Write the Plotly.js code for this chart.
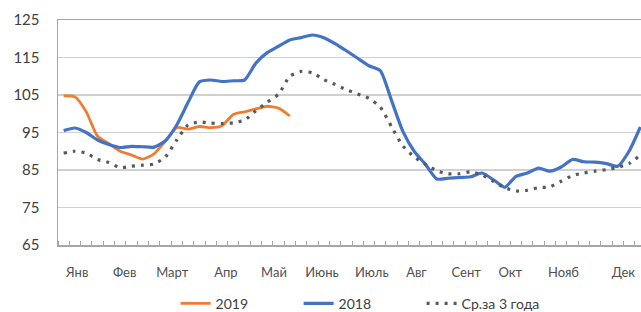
<!DOCTYPE html>
<html>
<head>
<meta charset="utf-8">
<script src="https://cdn.plot.ly/plotly-3.0.1.min.js"></script>
<style>
html,body{margin:0;padding:0;overflow:hidden;background:#fff;width:641px;height:312px;}
#chart{width:646px;height:312px;}
</style>
</head>
<body>
<div id="chart"></div>
<script>
// weeks 1..52
const weeks = Array.from({length: 52}, (_, i) => i + 1);

const series2019 = [104.8, 104.5, 100.5, 94.0, 92.0, 90.0, 89.0, 87.9, 89.3, 92.7,
  96.3, 95.9, 96.6, 96.3, 96.8, 99.8, 100.5, 101.3, 102.0, 101.5, 99.4];

const series2018 = [95.5, 96.2, 95.0, 93.0, 91.8, 91.0, 91.3, 91.2, 91.1, 92.8,
  97.0, 103.0, 108.5, 109.0, 108.6, 108.8, 109.0, 113.5, 116.3, 118.0,
  119.7, 120.3, 121.0, 120.3, 118.7, 116.8, 114.8, 112.8, 111.5, 103.5,
  95.3, 90.0, 86.5, 82.6, 82.8, 83.0, 83.2, 84.2, 82.4, 80.4,
  83.3, 84.2, 85.5, 84.7, 85.8, 87.8, 87.2, 87.1, 86.7, 86.0,
  90.0, 96.5];

const seriesAvg = [89.5, 90.0, 89.5, 87.8, 87.0, 85.6, 86.0, 86.3, 86.6, 88.5,
  93.0, 97.0, 97.8, 97.5, 97.4, 97.6, 98.3, 100.8, 103.1, 105.2,
  110.0, 111.3, 110.9, 109.1, 107.8, 106.4, 105.3, 104.1, 101.8, 96.5,
  91.4, 88.5, 86.5, 84.8, 84.0, 84.0, 84.5, 83.7, 82.0, 80.3,
  79.4, 79.6, 80.3, 80.5, 82.0, 83.5, 84.2, 84.7, 85.1, 85.7,
  86.7, 89.0];

const monthLabels = ["Янв", "Фев", "Март", "Апр", "Май", "Июнь", "Июль", "Авг", "Сент", "Окт", "Нояб", "Дек"];
const monthPos = [2.2, 6.4, 10.6, 15.35, 19.6, 23.85, 28.25, 32.2, 36.6, 40.5, 45.2, 50.5];

const yTicks = [65, 75, 85, 95, 105, 115, 125];

const FONT = "Lato, 'Liberation Sans', sans-serif";

const traces = [
  {
    x: weeks.slice(0, series2019.length), y: series2019, name: "2019",
    type: "scatter", mode: "lines",
    line: {color: "#ED7D31", width: 2.8, shape: "spline", smoothing: 0.6}
  },
  {
    x: weeks, y: series2018, name: "2018",
    type: "scatter", mode: "lines",
    line: {color: "#4472C4", width: 3.2, shape: "spline", smoothing: 0.6}
  },
  {
    x: weeks, y: seriesAvg, name: "Ср.за 3 года",
    type: "scatter", mode: "lines",
    line: {color: "#595959", width: 3.2, dash: "3px,6px", shape: "spline", smoothing: 0.6}
  }
];

const layout = {
  width: 646, height: 312,
  margin: {l: 58, r: 0, t: 20, b: 67, autoexpand: false},
  paper_bgcolor: "#fff", plot_bgcolor: "#fff",
  font: {family: FONT, color: "#404040"},
  showlegend: true,
  legend: {
    orientation: "h", x: 0.2, xanchor: "left", y: -0.19, yanchor: "top",
    font: {family: FONT, size: 14, color: "#404040"},
    entrywidth: 78, traceorder: "normal"
  },
  xaxis: {
    range: [0.5, 52.5], fixedrange: true,
    tickmode: "array", tickvals: monthPos, ticktext: monthLabels,
    ticks: "", showgrid: false, zeroline: false,
    showline: true, linecolor: "#a6a6a6", linewidth: 1.5, mirror: true,
    tickfont: {family: FONT, size: 13, color: "#505050"},
    ticklabelstandoff: 15,
    minor: {tickmode: "linear", tick0: 0.5, dtick: 1, ticks: "inside", ticklen: 4, tickcolor: "#a6a6a6", tickwidth: 1, showgrid: false}
  },
  yaxis: {
    range: [65, 125], fixedrange: true,
    tickmode: "array", tickvals: yTicks, ticktext: yTicks.map(String),
    ticks: "", showgrid: true, gridcolor: "#d0d0d0", gridwidth: 1.5,
    zeroline: false, showline: true, linecolor: "#a6a6a6", linewidth: 1.5,
    tickfont: {family: FONT, size: 15, color: "#404040"},
    ticklabelstandoff: 14
  }
};

Plotly.newPlot("chart", traces, layout, {staticPlot: true, displayModeBar: false});
</script>
</body>
</html>
